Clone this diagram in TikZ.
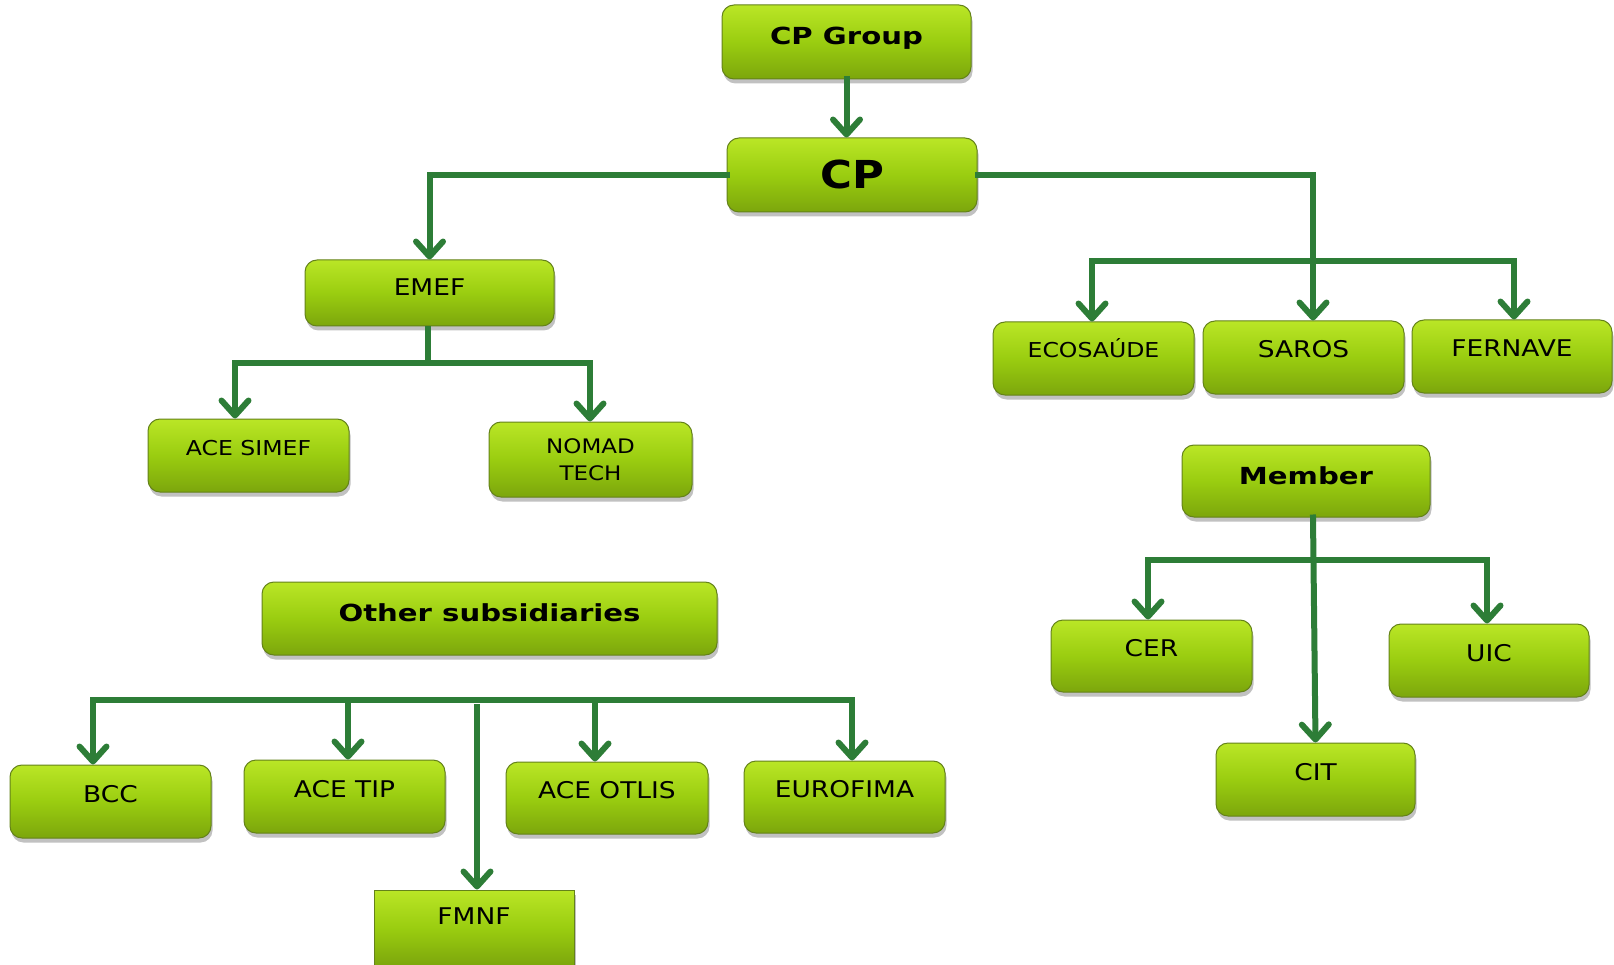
\documentclass[tikz,border=0pt]{standalone}
\usepackage{fontspec}
\newfontfamily\fr[FakeStretch=1.15]{DejaVu Sans}
\newfontfamily\fb[FakeStretch=1.24]{DejaVu Sans Bold}
\newfontfamily\fcp[FakeStretch=1.13]{DejaVu Sans Bold}
\usetikzlibrary{arrows.meta,shadows}
\definecolor{gtop}{RGB}{186,230,38}
\definecolor{gmid}{RGB}{154,205,16}
\definecolor{gbot}{RGB}{124,166,12}
\definecolor{gedge}{RGB}{100,130,26}
\definecolor{arrg}{RGB}{45,125,55}
\begin{document}
\begin{tikzpicture}[x=1pt,y=-1pt,
  box/.style={rectangle, rounded corners=12pt, draw=gedge, line width=1pt,
    top color=gtop, bottom color=gbot, middle color=gmid,
    drop shadow={shadow xshift=1.5pt,shadow yshift=-4.5pt,opacity=0.35,fill=black!70},
    minimum width=201pt, minimum height=73pt, inner sep=0pt,
    text height=17pt, text depth=16pt, font=\fr\fontsize{23}{27}\selectfont},
  smallbox/.style={box, text height=15pt, text depth=16pt, font=\fr\fontsize{20.5}{27}\selectfont},
  boldbox/.style={box, minimum width=248pt, minimum height=72pt, text height=17pt, text depth=11pt, font=\fb\fontsize{23.5}{27}\selectfont},
  ln/.style={draw=arrg, line width=6pt},
  arr/.style={draw=arrg, line width=6pt, line cap=rect, -{Straight Barb[length=15pt,width=27pt,round]}}
]
\useasboundingbox (0,0) rectangle (1614,965);
\clip (0,0) rectangle (1614,965);

% nodes
\node[boldbox, minimum width=249pt, minimum height=74pt] (grp) at (846.5,42) {CP Group};
\node[box, minimum width=250pt, minimum height=74pt, text height=28pt, text depth=0pt, font=\fcp\fontsize{38.5}{40}\selectfont] (cp) at (852,175) {CP};
\node[box, minimum width=249pt, minimum height=66pt, text depth=11pt] (emef) at (429.5,293) {EMEF};
\node[smallbox] (simef) at (248.5,455.5) {ACE SIMEF};
\node[box, minimum width=203pt, minimum height=75pt, text height=, text depth=, align=center, font=\fr\fontsize{20}{27}\selectfont] (nomad) at (590.5,459.5) {NOMAD\\TECH};
\node[smallbox] (eco) at (1093.5,358.5) {ECOSAÚDE};
\node[box] (saros) at (1303.5,357.5) {SAROS};
\node[box, minimum width=200pt] (fern) at (1512,356.5) {FERNAVE};
\node[boldbox] (member) at (1306,481) {Member};
\node[box, minimum height=72pt] (cer) at (1151.5,656) {CER};
\node[box, minimum width=200pt] (uic) at (1489,660.5) {UIC};
\node[box, minimum width=199pt] (cit) at (1315.5,779.5) {CIT};
\node[boldbox, minimum width=455pt, minimum height=73pt, text depth=12pt] (other) at (489.5,618.5) {Other subsidiaries};
\node[box] (bcc) at (110.5,801.5) {BCC};
\node[box] (tip) at (344.5,796.5) {ACE TIP};
\node[box, minimum width=202pt, minimum height=72pt] (otlis) at (607,798) {ACE OTLIS};
\node[box, minimum height=72pt] (euro) at (844.5,797) {EUROFIMA};
\node[box, rounded corners=0pt, minimum width=200pt, minimum height=76pt, text depth=24pt] (fmnf) at (474,928) {FMNF};

% connectors
\draw[arr] (grp.south) -- (grp.south |- cp.north);
\draw[arr] (cp.west) -| (emef.north);
\draw[arr] (cp.east) -| ([xshift=9.5pt]saros.north);

\coordinate (rb1) at (1092,261);
\coordinate (rb2) at (1514,261);
\draw[arr] (rb2) -- (rb1) -- (rb1 |- eco.north);
\draw[arr] (rb2) -- (rb2 |- fern.north);

\coordinate (el) at (235,363);
\coordinate (er) at (590,363);
\draw[ln] ([xshift=-1.5pt]emef.south) -- ([xshift=-1.5pt]emef.south |- el);
\draw[arr] (er) -- (el) -- (el |- simef.north);
\draw[arr] (er) -- (er |- nomad.north);

\coordinate (ml) at (1148,560);
\coordinate (mr) at (1487,560);
\draw[arr] ([xshift=7pt]member.south) -- (cit.north);
\draw[arr] (mr) -- (ml) -- (ml |- cer.north);
\draw[arr] (mr) -- (mr |- uic.north);

\coordinate (ol) at (93,700);
\coordinate (or) at (852,700);
\coordinate (o2) at (348,700);
\coordinate (o3) at (595,700);
\coordinate (o4) at (477,707);
\draw[arr] (or) -- (ol) -- (ol |- bcc.north);
\draw[arr] (o2) -- (o2 |- tip.north);
\draw[arr] (o3) -- (o3 |- otlis.north);
\draw[arr] (or) -- (or |- euro.north);
\draw[arr] (o4) -- (o4 |- fmnf.north);
\end{tikzpicture}
\end{document}
